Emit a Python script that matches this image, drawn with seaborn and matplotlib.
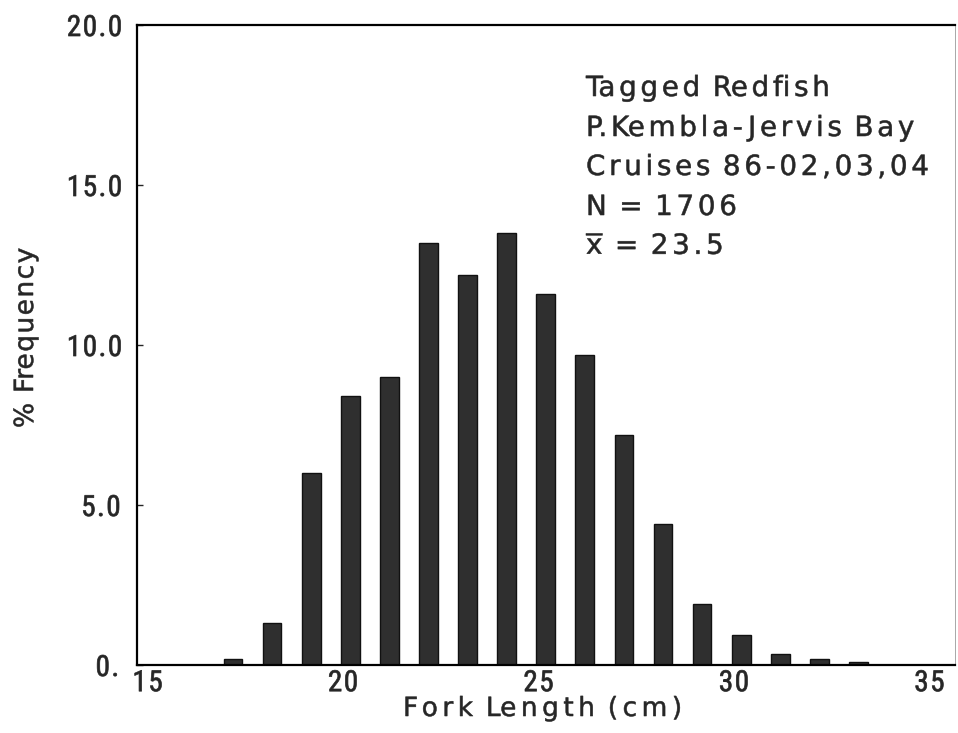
import numpy as np
import pandas as pd
import matplotlib
matplotlib.use("Agg")
import matplotlib.pyplot as plt
from matplotlib import font_manager
from matplotlib.path import Path
from matplotlib.patheffects import AbstractPathEffect
from matplotlib.transforms import ScaledTranslation
import seaborn as sns

# Length-frequency data (1 cm classes)
fork_length_cm = [17, 18, 19, 20, 21, 22, 23, 24, 25, 26, 27, 28, 29, 30, 31, 32, 33]
pct_frequency = [0.2, 1.3, 6.0, 8.4, 9.0, 13.2, 12.2, 13.5, 11.6, 9.7, 7.2, 4.4,
                 1.9, 0.95, 0.35, 0.18, 0.1]

x_ticks = [15, 20, 25, 30, 35]
x_tick_labels = ["15", "20", "25", "30", "35"]
y_ticks = [0, 5, 10, 15, 20]
y_tick_labels = ["0.", "5.0", "10.0", "15.0", "20.0"]

info_lines = [
    "Tagged Redfish",
    "P.Kembla-Jervis Bay",
    "Cruises 86-02,03,04",
    "N = 1706",
    r"$\overline{\mathrm{x}}$ = 23.5",
]
x_title = "Fork Length (cm)"
y_title = "% Frequency"


def first_font(candidates):
    for fam in candidates:
        try:
            font_manager.findfont(font_manager.FontProperties(family=fam),
                                  fallback_to_default=False)
            return fam
        except ValueError:
            continue
    return "DejaVu Sans"


class Tracking(AbstractPathEffect):
    """Draw text with extra space (in pixels) between glyphs, slightly emboldened."""

    def __init__(self, gap_px, stroke=0.0):
        super().__init__()
        self.gap_px = gap_px
        self.stroke = stroke

    def draw_path(self, renderer, gc, tpath, affine, rgbFace=None):
        m = affine.get_matrix()
        scale = np.sqrt(abs(np.linalg.det(m[:2, :2])))
        gap = self.gap_px / scale
        verts = np.asarray(tpath.vertices, dtype=float)
        codes = tpath.codes
        path = tpath
        if codes is not None and len(verts):
            starts = list(np.flatnonzero(codes == Path.MOVETO)) + [len(codes)]
            contours = [(starts[i], starts[i + 1]) for i in range(len(starts) - 1)]
            spans = [(verts[a:b, 0].min(), verts[a:b, 0].max()) for a, b in contours]
            order = np.argsort([s[0] for s in spans])
            shifted = verts.copy()
            k, right = -1, -np.inf
            for idx in order:
                lo, hi = spans[idx]
                if lo > right - 0.5:
                    k += 1
                    right = hi
                else:
                    right = max(right, hi)
                a, b = contours[idx]
                shifted[a:b, 0] += k * gap
            path = Path(shifted, codes)
        gc0 = renderer.new_gc()
        gc0.copy_properties(gc)
        if self.stroke > 0 and rgbFace is not None:
            gc0.set_foreground(rgbFace)
            gc0.set_linewidth(self.stroke)
        renderer.draw_path(gc0, path, affine, rgbFace)
        gc0.restore()


sns.set_style("white")
plt.rcParams["font.family"] = ["DejaVu Sans"]
plt.rcParams["mathtext.fontset"] = "dejavusans"

tick_family = first_font(["Liberation Sans Narrow", "Roboto Condensed", "DejaVu Sans Mono"])

W, H = 958, 733
fig, ax = plt.subplots(figsize=(W / 100, H / 100), dpi=100)
fig.subplots_adjust(left=137 / W, right=955 / W, bottom=1 - 665 / H, top=1 - 25 / H)

df = pd.DataFrame({"length": fork_length_cm, "freq": pct_frequency})
sns.barplot(data=df, x="length", y="freq", native_scale=True, width=0.48,
            color="#2f2f2f", saturation=1, edgecolor="#111111", linewidth=1.0, ax=ax)

ax.set_xlim(14.545, 35.47)
ax.set_ylim(0, 20)

ax.set_xticks(x_ticks)
ax.set_xticklabels(x_tick_labels, family=tick_family, fontsize=21,
                   path_effects=[Tracking(1.5, 0.5)])
ax.set_yticks(y_ticks)
ax.set_yticklabels(y_tick_labels, family=tick_family, fontsize=21,
                   path_effects=[Tracking(1.5, 0.5)])
ax.tick_params(axis="x", length=0, pad=3)
ax.tick_params(axis="y", direction="in", length=4, width=1, pad=14, left=True)
shift = ScaledTranslation(-8 / 100, 0, fig.dpi_scale_trans)
for lab in ax.get_xticklabels():
    lab.set_transform(lab.get_transform() + shift)

for side in ("left", "bottom", "top"):
    ax.spines[side].set_linewidth(1.6)
    ax.spines[side].set_color("black")
ax.spines["right"].set_linewidth(0.6)
ax.spines["right"].set_color("#9a9a9a")

ax.set_xlabel(x_title, fontsize=19, ha="left", va="baseline",
              path_effects=[Tracking(4.5, 0.4)])
ax.xaxis.set_label_coords((403 - 137) / 818, (665 - 716) / 640)
ax.set_ylabel(y_title, fontsize=19, ha="left", va="bottom",
              path_effects=[Tracking(1.5, 0.4)])
ax.yaxis.set_label_coords((39 - 137) / 818, (665 - 428) / 640)

baselines = [96, 136, 175, 215, 254]
for line, yb in zip(info_lines, baselines):
    ax.text((586 - 137) / 818, (665 - yb) / 640, line, transform=ax.transAxes,
            fontsize=20, ha="left", va="baseline",
            path_effects=[Tracking(3.7, 0.4)])

fig.savefig("out.png", dpi=100)
